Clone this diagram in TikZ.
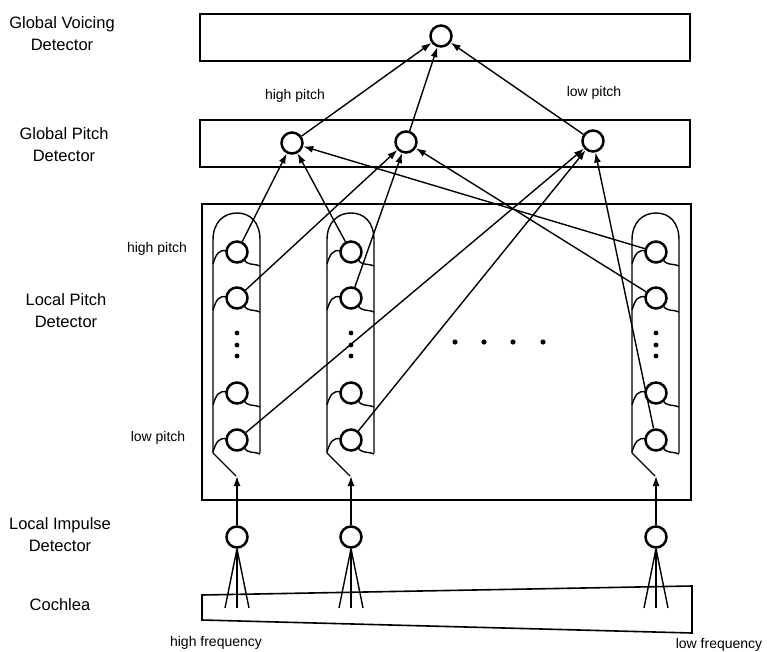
\documentclass[tikz,border=0pt]{standalone}
\usepackage{fontspec}
\setmainfont{Liberation Sans}
\usetikzlibrary{arrows.meta}
\begin{document}
\begin{tikzpicture}[x=1pt,y=-1pt,
  neuron/.style={circle,draw,line width=2.5pt,minimum size=21pt,inner sep=0pt,fill=white},
  conn/.style={line width=1.4pt,-{Latex[length=10pt,width=7pt]}},
  frame/.style={line width=1.6pt},
  wall/.style={line width=1.4pt},
  big/.style={font=\fontsize{16.5}{22}\selectfont,align=center},
  small/.style={font=\fontsize{14}{16}\selectfont}]
\useasboundingbox (0,0) rectangle (767,652);
% boxes
\draw[frame] (200,14) rectangle (690,61);
\draw[frame] (200,120) rectangle (690,167);
\draw[frame] (202,204) rectangle (691,500);
\draw[frame] (202,595) -- (692,586) -- (692,633) -- (202,620) -- cycle;
% global nodes
\node[neuron] (v) at (441,36) {};
\node[neuron] (g1) at (292,143) {};
\node[neuron] (g2) at (406,142) {};
\node[neuron] (g3) at (593,141) {};
% columns
\foreach \c/\x in {1/237,2/351,3/656}{
  \draw[wall] (\x-1,476) -- (\x-24,453) -- (\x-24,240)
     .. controls (\x-24,222) and (\x-13,213) .. (\x,213)
     .. controls (\x+13,213) and (\x+23,222) .. (\x+23,240) -- (\x+23,453);
  \foreach \i/\y in {1/252,2/298,3/393,4/440}{
    \draw[wall] (\x-24,\y+12) .. controls (\x-21,\y+2) and (\x-18,\y-3) .. (\x-10,\y-1);
    \draw[wall] (\x+7,\y+7) .. controls (\x+10,\y+14) and (\x+16,\y+11) .. (\x+23,\y+14);
    \node[neuron] (p\c\i) at (\x,\y) {};
  }
  \foreach \y in {333,345,356}{\fill (\x,\y) circle[radius=2.4pt];}
  \node[neuron] (i\c) at (\x,537) {};
  \coordinate (t\c) at (\x,476);
  \draw[conn] (i\c) -- (t\c);
  \coordinate (fa\c) at (\x-12,608);
  \coordinate (fb\c) at (\x,608);
  \coordinate (fc\c) at (\x+12,608);
  \draw[wall] (i\c.south) -- (fa\c);
  \draw[wall] (i\c.south) -- (fb\c);
  \draw[wall] (i\c.south) -- (fc\c);
}
\foreach \x in {455,484,513,543}{\fill (\x,342) circle[radius=2.6pt];}
% connections
\draw[conn] (g1) -- (v);
\draw[conn] (g2) -- (v);
\draw[conn] (g3) -- (v);
\draw[conn] (p11) -- (g1);
\draw[conn] (p21) -- (g1);
\draw[conn] (p31) -- (g1);
\draw[conn] (p12) -- (g2);
\draw[conn] (p22) -- (g2);
\draw[conn] (p32) -- (g2);
\draw[conn] (p14) -- (g3);
\draw[conn] (p24) -- (g3);
\draw[conn] (p34) -- (g3);
% labels
\node[big] (lv) at (62,34) {Global Voicing\\Detector};
\node[big] (lg) at (64,145) {Global Pitch\\Detector};
\node[big] (ll) at (66,311) {Local Pitch\\Detector};
\node[big] (li) at (60,535) {Local Impulse\\Detector};
\node[big] (lc) at (60,605) {Cochlea};
\node[small] (hp1) at (157,249) {high pitch};
\node[small] (lp1) at (158,438) {low pitch};
\node[small] (hp2) at (295,96) {high pitch};
\node[small] (lp2) at (594,93) {low pitch};
\node[small] (hf) at (216,643) {high frequency};
\node[small] (lf) at (719,645) {low frequency};
\end{tikzpicture}
\end{document}
